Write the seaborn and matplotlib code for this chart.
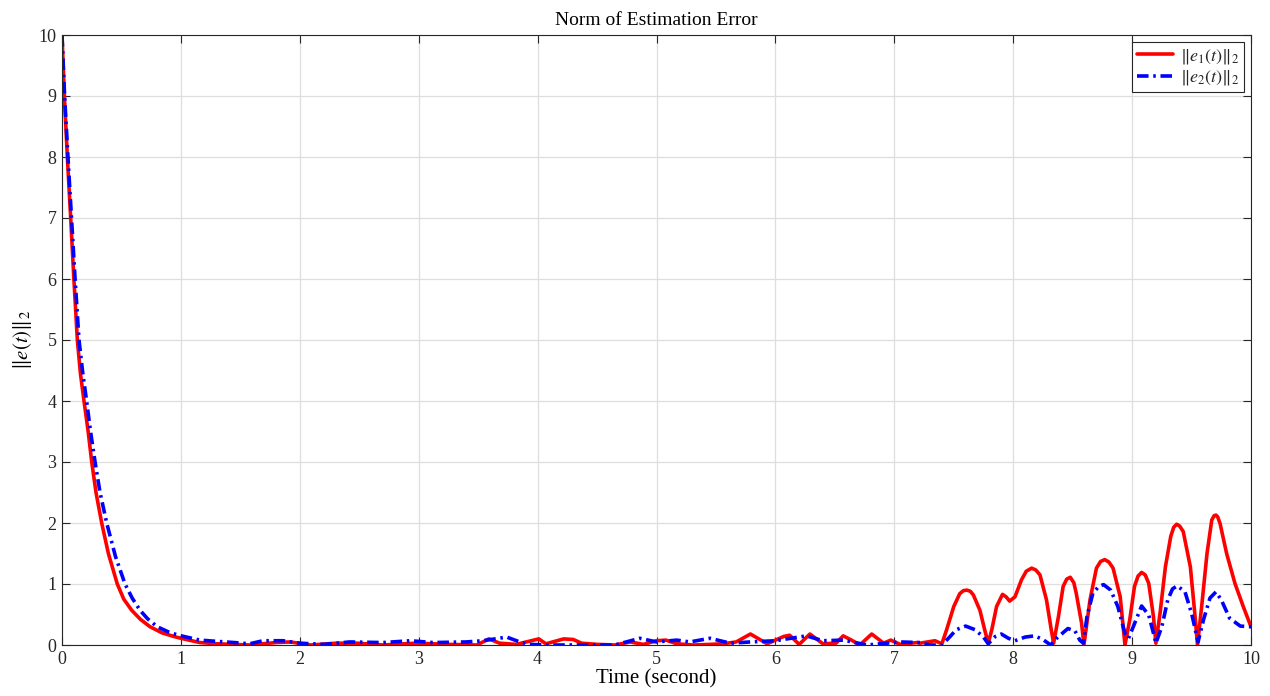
import numpy as np
import pandas as pd
import matplotlib
matplotlib.use("Agg")
import matplotlib.pyplot as plt
import seaborn as sns

# ---- data ----
t_e1 = [0.0, 0.02, 0.045, 0.073, 0.10, 0.129, 0.155, 0.185, 0.22, 0.25, 0.286, 0.334, 0.39, 0.465, 0.52,
        0.586, 0.66, 0.74, 0.84, 0.94, 1.0, 1.16, 1.30, 1.45, 1.58, 1.80, 1.92, 2.09, 2.31, 2.48, 2.70,
        2.98, 3.26, 3.49, 3.59, 3.68, 3.82, 4.01, 4.07, 4.22, 4.30, 4.37, 4.50, 4.65, 4.78, 4.89, 5.0, 5.08,
        5.17, 5.31, 5.45, 5.56, 5.67, 5.79, 5.93, 6.07, 6.12, 6.20, 6.29, 6.40, 6.51, 6.57, 6.64, 6.71,
        6.81, 6.91, 6.97, 7.05, 7.19, 7.216, 7.342, 7.40, 7.44, 7.50, 7.55, 7.58, 7.61, 7.64, 7.665, 7.72,
        7.76, 7.79, 7.82, 7.86, 7.91, 7.94, 7.97, 8.015, 8.07, 8.11, 8.155, 8.19, 8.225, 8.28, 8.32, 8.34,
        8.38, 8.42, 8.45, 8.48, 8.51, 8.53, 8.575, 8.595, 8.646, 8.70, 8.735, 8.77, 8.805, 8.84, 8.90, 8.94,
        8.98, 9.02, 9.05, 9.08, 9.11, 9.14, 9.18, 9.20, 9.235, 9.28, 9.325, 9.35, 9.375, 9.40, 9.43, 9.49,
        9.53, 9.55, 9.585, 9.63, 9.67, 9.69, 9.705, 9.72, 9.74, 9.795, 9.865, 9.935, 10.0]
v_e1 = [10.0, 9.0, 8.0, 7.0, 6.0, 5.0, 4.45, 4.0, 3.5, 3.0, 2.5, 2.0, 1.5, 1.0, 0.75,
        0.57, 0.42, 0.30, 0.20, 0.14, 0.11, 0.04, 0.02, 0.01, 0.0, 0.04, 0.05, 0.0, 0.03, 0.03, 0.0,
        0.03, 0.01, 0.0, 0.10, 0.03, 0.01, 0.10, 0.02, 0.10, 0.09, 0.03, 0.01, 0.0, 0.05, 0.01, 0.07, 0.08,
        0.02, 0.0, 0.01, 0.02, 0.05, 0.18, 0.02, 0.14, 0.16, 0.01, 0.18, 0.02, 0.03, 0.15, 0.08, 0.0,
        0.18, 0.03, 0.08, 0.01, 0.04, 0.03, 0.07, 0.02, 0.25, 0.63, 0.84, 0.89, 0.90, 0.88, 0.82, 0.57,
        0.25, 0.03, 0.25, 0.63, 0.83, 0.79, 0.72, 0.79, 1.07, 1.21, 1.26, 1.23, 1.15, 0.74, 0.25, 0.03,
        0.46, 0.96, 1.08, 1.11, 1.02, 0.85, 0.36, 0.0, 0.74, 1.26, 1.37, 1.40, 1.36, 1.26, 0.79, 0.0,
        0.41, 0.96, 1.13, 1.19, 1.15, 1.01, 0.46, 0.03, 0.52, 1.28, 1.78, 1.93, 1.98, 1.95, 1.86, 1.28,
        0.46, 0.0, 0.63, 1.50, 2.05, 2.12, 2.13, 2.10, 1.99, 1.50, 1.01, 0.63, 0.30]

t_e2 = [0.0, 0.022, 0.05, 0.08, 0.11, 0.143, 0.175, 0.207, 0.24, 0.278, 0.32, 0.376, 0.45, 0.53, 0.59,
        0.656, 0.72, 0.80, 0.90, 0.98, 1.16, 1.30, 1.45, 1.58, 1.69, 1.86, 2.0, 2.2, 2.42, 2.70, 2.93, 3.12,
        3.40, 3.54, 3.74, 3.85, 3.93, 4.10, 4.65, 4.86, 5.0, 5.17, 5.28, 5.45, 5.62, 5.79, 6.0, 6.26, 6.40,
        6.57, 6.77, 7.05, 7.216, 7.30, 7.40, 7.47, 7.52, 7.60, 7.68, 7.75, 7.79, 7.85, 7.90, 7.96, 8.015,
        8.10, 8.18, 8.25, 8.315, 8.365, 8.46, 8.52, 8.56, 8.59, 8.62, 8.67, 8.72, 8.76, 8.82, 8.88, 8.94,
        8.97, 9.01, 9.08, 9.14, 9.18, 9.20, 9.25, 9.30, 9.34, 9.38, 9.445, 9.50, 9.555, 9.60, 9.655, 9.705,
        9.75, 9.82, 9.91, 10.0]
v_e2 = [10.0, 9.0, 8.0, 7.0, 6.0, 5.0, 4.45, 4.0, 3.5, 3.0, 2.5, 2.0, 1.45, 1.0, 0.77,
        0.57, 0.43, 0.30, 0.21, 0.16, 0.08, 0.06, 0.04, 0.02, 0.07, 0.07, 0.03, 0.01, 0.05, 0.04, 0.07, 0.04,
        0.05, 0.07, 0.13, 0.05, 0.01, 0.0, 0.0, 0.11, 0.05, 0.08, 0.05, 0.11, 0.03, 0.05, 0.07, 0.15, 0.07,
        0.08, 0.0, 0.05, 0.04, 0.0, 0.0, 0.14, 0.25, 0.31, 0.25, 0.13, 0.02, 0.14, 0.18, 0.11, 0.07,
        0.13, 0.15, 0.09, 0.0, 0.11, 0.27, 0.23, 0.08, 0.03, 0.46, 0.85, 0.96, 0.99, 0.90, 0.63, 0.19,
        0.11, 0.30, 0.64, 0.49, 0.19, 0.03, 0.30, 0.74, 0.92, 0.97, 0.87, 0.52, 0.05, 0.41, 0.77, 0.87,
        0.74, 0.44, 0.31, 0.30]

labels = [r"$\|e_1(t)\|_2$", r"$\|e_2(t)\|_2$"]
title = "Norm of Estimation Error"
xlabel = "Time (second)"
ylabel = r"$\|e(t)\|_2$"

# ---- style ----
sns.set_theme(style="whitegrid")
plt.rcParams["font.family"] = ["Liberation Serif", "DejaVu Serif"]
plt.rcParams["mathtext.fontset"] = "stix"

fig = plt.figure(figsize=(12.7, 6.96), dpi=100)
ax = fig.add_axes([62 / 1270, 1 - 645 / 696, (1251 - 62) / 1270, (645 - 35) / 696])

df1 = pd.DataFrame({"t": t_e1, "v": v_e1})
df2 = pd.DataFrame({"t": t_e2, "v": v_e2})
sns.lineplot(data=df1, x="t", y="v", ax=ax, color="#ff0000", lw=2.6, label=labels[0])
sns.lineplot(data=df2, x="t", y="v", ax=ax, color="#0000ff", lw=2.6, label=labels[1])
ax.lines[1].set_dashes([3.2, 1.3, 0.7, 1.3])
ax.lines[0].set_solid_joinstyle("round")

ax.set_xlim(0, 10)
ax.set_ylim(0, 10)
ax.set_xticks(range(0, 11))
ax.set_yticks(range(0, 11))
ax.grid(True, color="#dedede", lw=0.9)
ax.set_facecolor("white")
for s in ax.spines.values():
    s.set_color("#262626")
    s.set_linewidth(0.8)
ax.tick_params(direction="in", length=6, width=0.8, colors="#262626", labelsize=13,
               top=True, right=True, bottom=True, left=True, pad=4)

ax.set_title(title, fontsize=14, color="#000000", pad=7)
ax.set_xlabel(xlabel, fontsize=15, color="#000000", labelpad=1)
ax.set_ylabel(ylabel, fontsize=15, color="#000000", labelpad=3)

leg = ax.legend(loc="upper right", fontsize=13, frameon=True, fancybox=False,
                edgecolor="#262626", framealpha=1, handlelength=2.0, borderpad=0.25,
                labelspacing=0.15, handletextpad=0.4, borderaxespad=0.4)
leg.get_frame().set_linewidth(0.8)
leg.get_lines()[1].set_dashes([3.2, 1.3, 0.7, 1.3])

fig.savefig("out.png", dpi=100, facecolor="white")
